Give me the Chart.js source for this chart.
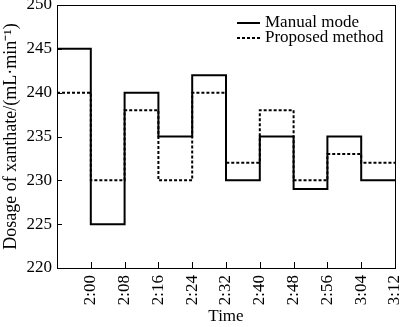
<!DOCTYPE html>
<html>
<head>
<meta charset="utf-8">
<script src="https://cdn.jsdelivr.net/npm/chart.js@4/dist/chart.umd.min.js"></script>
<style>
  html, body { margin: 0; padding: 0; background: #fff; }
  #wrap { width: 400px; height: 327px; }
</style>
</head>
<body>
<div id="wrap"><canvas id="chart"></canvas></div>
<script>
  // interval boundaries; each value holds from one boundary to the next
  var timeLabels = ['1:52', '2:00', '2:08', '2:16', '2:24', '2:32', '2:40', '2:48', '2:56', '3:04', '3:12'];
  var manualMode = [245, 225, 240, 235, 242, 230, 235, 229, 235, 230];
  var proposedMethod = [240, 230, 238, 230, 240, 232, 238, 230, 233, 232];
  var yTicks = [220, 225, 230, 235, 240, 245, 250];

  var serif = '"Liberation Serif", "Times New Roman", serif';

  function toSteps(values) {
    var pts = values.map((v, i) => ({x: i, y: v}));
    pts.push({x: values.length, y: values[values.length - 1]});
    return pts;
  }

  // frame, inward ticks and legend drawn over the chart area
  var framePlugin = {
    id: 'frame',
    afterDatasetsDraw(chart) {
      var ctx = chart.ctx;
      var a = chart.chartArea;
      var xs = chart.scales.x;
      var ys = chart.scales.y;
      ctx.save();
      ctx.strokeStyle = '#000';
      ctx.lineWidth = 1;
      ctx.setLineDash([]);
      ctx.strokeRect(Math.round(a.left) + 0.5, Math.round(a.top) + 0.5,
        Math.round(a.right - a.left), Math.round(a.bottom - a.top));

      ctx.beginPath();
      yTicks.forEach((v) => {
        var py = Math.round(ys.getPixelForValue(v)) + 0.5;
        ctx.moveTo(a.left, py);
        ctx.lineTo(a.left + 5, py);
      });
      for (var i = 1; i < timeLabels.length; i++) {
        var px = Math.round(xs.getPixelForValue(i)) + 0.5;
        ctx.moveTo(px, a.bottom);
        ctx.lineTo(px, a.bottom - 6);
      }
      ctx.stroke();

      // legend
      ctx.font = '17px ' + serif;
      ctx.fillStyle = '#000';
      ctx.textBaseline = 'middle';
      chart.data.datasets.forEach((ds, k) => {
        var y = 23 + k * 15;
        ctx.beginPath();
        ctx.lineWidth = 2;
        ctx.setLineDash(ds.borderDash || []);
        ctx.moveTo(237, y);
        ctx.lineTo(260, y);
        ctx.stroke();
        ctx.fillText(ds.label, 265, y);
      });
      ctx.restore();
    }
  };

  new Chart(document.getElementById('chart'), {
    type: 'line',
    data: {
      datasets: [
        {
          label: 'Manual mode',
          data: toSteps(manualMode),
          stepped: 'before',
          borderColor: '#000',
          borderWidth: 2,
          pointRadius: 0,
          fill: false,
          order: 0
        },
        {
          label: 'Proposed method',
          data: toSteps(proposedMethod),
          stepped: 'before',
          borderColor: '#000',
          borderWidth: 2,
          borderDash: [3, 2],
          pointRadius: 0,
          fill: false,
          order: 1
        }
      ]
    },
    options: {
      responsive: true,
      maintainAspectRatio: false,
      animation: false,
      layout: { padding: { top: 5, right: 5, left: 0, bottom: 0 } },
      plugins: {
        legend: { display: false },
        tooltip: { enabled: false }
      },
      scales: {
        x: {
          type: 'linear',
          min: 0,
          max: timeLabels.length - 1,
          grid: { display: false, drawTicks: false },
          border: { display: false },
          afterFit(scale) {
            scale.height = 59;
            scale.paddingLeft = 0;
            scale.paddingRight = 0;
          },
          afterBuildTicks(scale) {
            scale.ticks = timeLabels.map((t, i) => ({value: i}));
          },
          ticks: {
            color: '#000',
            font: { family: serif, size: 17 },
            padding: 7,
            minRotation: 90,
            maxRotation: 90,
            autoSkip: false,
            callback: (v) => (v === 0 ? '' : timeLabels[v])
          },
          title: {
            display: true,
            text: 'Time',
            color: '#000',
            font: { family: serif, size: 17 },
            padding: { top: 0, bottom: 0 }
          }
        },
        y: {
          min: 220,
          max: 250,
          grid: { display: false, drawTicks: false },
          border: { display: false },
          afterFit(scale) {
            scale.width = 57;
            scale.paddingTop = 0;
            scale.paddingBottom = 0;
          },
          afterBuildTicks(scale) {
            scale.ticks = yTicks.map((v) => ({value: v}));
          },
          ticks: {
            color: '#000',
            font: { family: serif, size: 17 },
            padding: 5
          },
          title: {
            display: true,
            text: 'Dosage of xanthate/(mL·min⁻¹)',
            color: '#000',
            font: { family: serif, size: 18 },
            padding: { top: 0, bottom: 0 }
          }
        }
      }
    },
    plugins: [framePlugin]
  });
</script>
</body>
</html>
